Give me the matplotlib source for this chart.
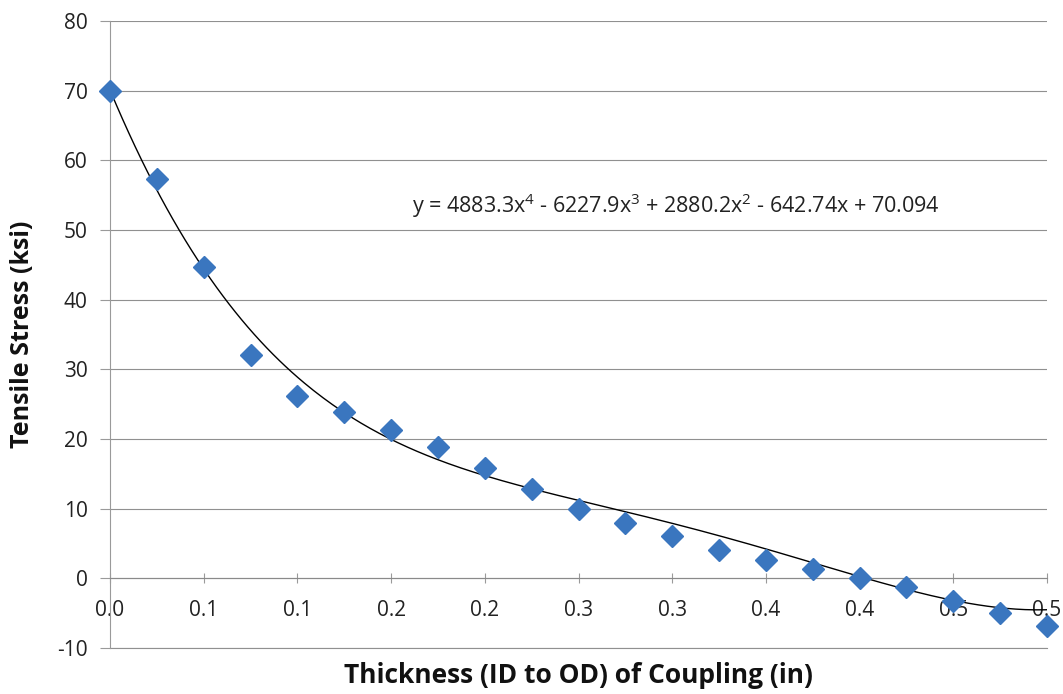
import numpy as np
import matplotlib.pyplot as plt

# thickness (in) and tensile stress (ksi)
thickness = [0.0, 0.025, 0.05, 0.075, 0.1, 0.125, 0.15, 0.175, 0.2, 0.225, 0.25,
             0.275, 0.3, 0.325, 0.35, 0.375, 0.4, 0.425, 0.45, 0.475, 0.5]
stress = [70.0, 57.3, 44.7, 32.1, 26.2, 23.9, 21.3, 18.8, 15.9, 12.8, 9.9,
          7.9, 6.1, 4.1, 2.6, 1.3, 0.1, -1.3, -3.2, -5.0, -6.9]

# 4th order trendline coefficients as printed on the chart
trend_coef = [4883.3, -6227.9, 2880.2, -642.74, 70.094]
trend_text = 'y = 4883.3x$^4$ - 6227.9x$^3$ + 2880.2x$^2$ - 642.74x + 70.094'

xticks = [0.0, 0.05, 0.1, 0.15, 0.2, 0.25, 0.3, 0.35, 0.4, 0.45, 0.5]
xtick_labels = ['0.0', '0.1', '0.1', '0.2', '0.2', '0.3', '0.3', '0.4', '0.4', '0.5', '0.5']
yticks = [-10, 0, 10, 20, 30, 40, 50, 60, 70, 80]

plt.rcParams['font.family'] = ['Open Sans', 'DejaVu Sans']
plt.rcParams['mathtext.fontset'] = 'custom'
plt.rcParams['mathtext.rm'] = 'Open Sans'
plt.rcParams['axes.unicode_minus'] = False

fig = plt.figure(figsize=(10.63, 6.94), dpi=100)
ax = fig.add_axes([0.1035, 0.0663, 0.8815, 0.9034])

xs = np.linspace(0, 0.5, 300)
ax.plot(xs, np.polyval(trend_coef, xs), color='black', linewidth=1.0, zorder=2)
ax.plot(thickness, stress, linestyle='none', marker='D', markersize=11,
        color='#3A76BF', markeredgecolor='#3A76BF', zorder=3, clip_on=False)

ax.set_xlim(0, 0.5)
ax.set_ylim(-10, 80)
ax.set_yticks(yticks)
ax.set_xticks(xticks)
ax.set_xticklabels(xtick_labels)
ax.yaxis.grid(True, color='#909090', linewidth=0.8)
ax.axhline(-10, color='#909090', linewidth=0.8, clip_on=False, zorder=0)
ax.set_axisbelow(True)

for s in ['top', 'right']:
    ax.spines[s].set_visible(False)
ax.spines['left'].set_color('#9a9a9a')
ax.spines['bottom'].set_position(('data', 0))
ax.spines['bottom'].set_color('#8a8a8a')

ax.tick_params(axis='y', length=7, color='#9a9a9a', labelsize=15, pad=9,
               labelcolor='#222222')
ax.tick_params(axis='x', direction='inout', length=7, color='#9a9a9a',
               labelsize=15, pad=12, labelcolor='#222222')

ax.text(0.161, 53.5, trend_text, fontsize=15.5, color='#222222', va='center')

ax.set_xlabel('Thickness (ID to OD) of Coupling (in)', fontsize=19,
              fontweight='bold', color='#111111')
ax.xaxis.set_label_coords(0.5, -0.022)
ax.set_ylabel('Tensile Stress (ksi)', fontsize=18, fontweight='bold',
              color='#111111')
ax.yaxis.set_label_coords(-0.08, 0.5)

fig.savefig('out.png', dpi=100)
